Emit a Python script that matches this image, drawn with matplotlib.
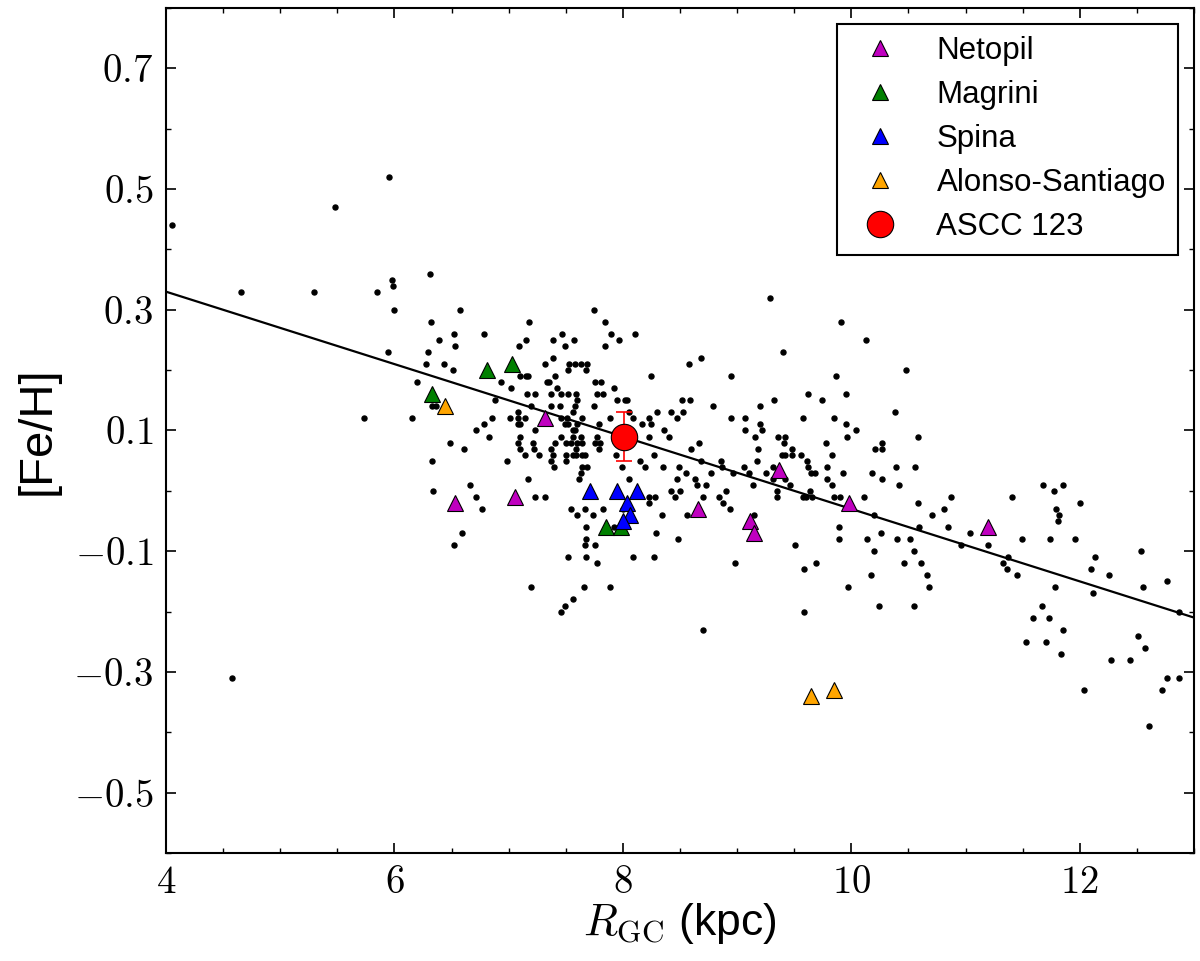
import matplotlib
matplotlib.use('Agg')
import matplotlib.pyplot as plt
from matplotlib.ticker import MultipleLocator, FixedLocator, FuncFormatter
import numpy as np

plt.rcParams['font.family'] = ['Liberation Sans', 'DejaVu Sans']
plt.rcParams['mathtext.fontset'] = 'cm'
plt.rcParams['xtick.direction'] = 'in'
plt.rcParams['ytick.direction'] = 'in'
plt.rcParams['xtick.top'] = True
plt.rcParams['ytick.right'] = True

# open clusters (black dots)
rgc = [5.95, 5.48, 4.05, 4.66, 5.30, 5.85, 5.98, 5.99, 6.00, 5.94, 6.20, 5.73, 6.15, 6.31, 4.58,
       6.57, 7.75, 6.32, 7.18, 7.84, 6.52, 6.78, 7.47, 7.90, 8.11, 6.39, 7.15, 7.39, 7.57, 7.97,
       6.53, 7.09, 7.49, 7.84, 6.29, 7.39, 6.28, 6.43, 7.32, 7.53, 7.58, 7.63, 7.69, 6.51, 7.52, 7.68,
       7.10, 7.15, 7.17, 7.41, 8.25, 6.93, 7.34, 7.35, 7.76, 7.81, 7.02, 7.42, 7.92,
       7.16, 7.23, 7.37, 7.46, 7.52, 7.59, 7.77, 7.83, 6.88, 7.60, 7.95, 8.02, 8.04,
       6.33, 6.36, 7.20, 7.37, 7.45, 7.58, 7.75, 7.08, 7.56, 8.05, 8.30,
       6.85, 7.01, 7.08, 7.14, 7.46, 7.51, 7.64, 7.89, 8.09, 8.23,
       6.78, 7.08, 7.10, 7.49, 7.52, 7.60, 7.79, 8.17, 8.25, 6.71, 7.23, 7.56, 7.58,
       6.83, 7.10, 7.46, 7.56, 7.63, 7.77, 8.23,
       6.49, 7.08, 7.21, 7.41, 7.50, 7.55, 7.60, 7.64, 7.76, 7.80,
       6.61, 7.10, 7.22, 7.37, 7.59, 7.79,
       7.14, 7.27, 7.39, 7.50, 7.56, 7.59, 7.64, 7.67, 7.94, 8.27,
       6.33, 6.99, 7.37, 7.50, 8.15, 7.40, 7.64, 7.69, 7.99, 8.19, 7.63, 7.17, 7.62, 8.05,
       6.66, 6.34, 6.71, 7.23, 7.32, 8.23, 8.28, 8.23, 6.77, 7.55, 7.67, 7.83, 7.60, 7.74,
       7.68, 6.59, 8.29, 7.68, 6.52, 7.67, 7.76, 7.52, 7.68, 8.09, 8.27, 7.77,
       7.20, 7.66, 7.89, 7.56, 7.49, 7.46, 7.92, 8.00,
       9.29, 9.91, 10.13, 9.40, 8.58, 8.68, 8.95, 9.87, 9.62, 9.95, 8.52, 8.59, 9.32, 9.74,
       8.79, 9.20, 8.42, 8.53, 10.38, 8.47, 8.95, 9.07, 9.58, 9.85, 9.20, 9.95,
       8.36, 9.07, 9.22, 10.04, 8.40, 9.16, 9.36, 9.42, 9.96, 8.67, 9.41, 9.78, 10.27,
       8.60, 9.18, 9.48, 10.21, 10.27, 9.39, 9.42, 9.48, 9.56, 9.83, 8.68, 8.86, 9.17, 9.61,
       8.35, 8.49, 8.87, 9.06, 9.31, 9.62, 9.79, 10.39,
       8.55, 8.77, 8.96, 9.10, 9.25, 9.65, 9.68, 9.93, 10.18,
       8.47, 8.63, 9.31, 9.42, 9.79, 10.27, 8.65, 8.73, 9.14, 9.46, 9.83, 10.42,
       8.42, 8.50, 8.90, 9.35, 9.64, 8.46, 8.70, 8.84, 9.35, 9.58, 9.60, 9.66, 9.85, 9.90, 10.11,
       8.88, 8.94, 8.34, 8.56, 9.15, 10.20, 9.89, 10.26, 8.48, 9.89, 10.14, 10.40, 9.51,
       10.20, 8.98, 9.69, 9.59, 10.17, 9.97, 10.24, 9.59, 8.70,
       10.48, 10.58, 10.56, 11.68, 11.85, 11.77, 10.87, 11.41, 10.58, 12.00, 10.81, 11.79,
       10.71, 11.82, 11.81, 10.59, 10.85, 11.04, 10.51, 11.49, 11.74, 11.96,
       10.96, 11.20, 10.55, 12.54, 11.37, 12.13, 10.46, 10.61, 11.33, 11.36, 12.10,
       10.66, 11.45, 12.26, 12.76, 10.68, 11.78, 12.55, 12.12, 10.55, 11.67, 12.87,
       11.59, 11.73, 11.85, 12.51, 11.53, 11.70, 12.57, 11.84, 12.27, 12.44,
       12.76, 12.87, 12.04, 12.72, 12.61]
feh = [0.52, 0.47, 0.44, 0.33, 0.33, 0.33, 0.35, 0.34, 0.30, 0.23, 0.18, 0.12, 0.12, 0.36, -0.31,
       0.30, 0.30, 0.28, 0.28, 0.28, 0.26, 0.26, 0.26, 0.26, 0.26, 0.25, 0.25, 0.25, 0.25, 0.25,
       0.24, 0.24, 0.24, 0.24, 0.23, 0.22, 0.21, 0.21, 0.21, 0.21, 0.21, 0.21, 0.21, 0.20, 0.20, 0.20,
       0.19, 0.19, 0.19, 0.19, 0.19, 0.18, 0.18, 0.18, 0.18, 0.18, 0.17, 0.17, 0.17,
       0.16, 0.16, 0.16, 0.16, 0.16, 0.16, 0.16, 0.16, 0.15, 0.15, 0.15, 0.15, 0.15,
       0.14, 0.14, 0.14, 0.14, 0.14, 0.14, 0.14, 0.13, 0.13, 0.13, 0.13,
       0.12, 0.12, 0.12, 0.12, 0.12, 0.12, 0.12, 0.12, 0.12, 0.12,
       0.11, 0.11, 0.11, 0.11, 0.11, 0.11, 0.11, 0.11, 0.11, 0.10, 0.10, 0.10, 0.10,
       0.09, 0.09, 0.09, 0.09, 0.09, 0.09, 0.09,
       0.08, 0.08, 0.08, 0.08, 0.08, 0.08, 0.08, 0.08, 0.08, 0.08,
       0.07, 0.07, 0.07, 0.07, 0.07, 0.07,
       0.06, 0.06, 0.06, 0.06, 0.06, 0.06, 0.06, 0.06, 0.06, 0.06,
       0.05, 0.05, 0.05, 0.05, 0.05, 0.04, 0.04, 0.04, 0.04, 0.04, 0.03, 0.02, 0.02, 0.02,
       0.01, 0.00, -0.01, -0.01, -0.01, -0.01, -0.01, -0.02, -0.03, -0.03, -0.03, -0.03, -0.04, -0.04,
       -0.06, -0.07, -0.07, -0.08, -0.09, -0.09, -0.09, -0.11, -0.11, -0.11, -0.11, -0.12,
       -0.16, -0.16, -0.16, -0.18, -0.19, -0.20, -0.06, -0.03,
       0.32, 0.28, 0.25, 0.23, 0.21, 0.22, 0.19, 0.19, 0.16, 0.16, 0.15, 0.15, 0.15, 0.15,
       0.14, 0.14, 0.13, 0.13, 0.13, 0.12, 0.12, 0.12, 0.12, 0.12, 0.11, 0.11,
       0.10, 0.10, 0.10, 0.10, 0.09, 0.09, 0.09, 0.09, 0.09, 0.08, 0.08, 0.08, 0.08,
       0.07, 0.07, 0.07, 0.07, 0.07, 0.06, 0.06, 0.06, 0.06, 0.06, 0.05, 0.05, 0.05, 0.05,
       0.04, 0.04, 0.04, 0.04, 0.04, 0.04, 0.04, 0.04,
       0.03, 0.03, 0.03, 0.03, 0.03, 0.03, 0.03, 0.03, 0.03,
       0.02, 0.02, 0.02, 0.02, 0.02, 0.02, 0.01, 0.01, 0.01, 0.01, 0.01, 0.01,
       0.00, 0.00, 0.00, 0.00, 0.00, -0.01, -0.01, -0.01, -0.01, -0.01, -0.01, -0.01, -0.01, -0.01, -0.01,
       -0.02, -0.03, -0.04, -0.04, -0.04, -0.04, -0.06, -0.07, -0.08, -0.08, -0.08, -0.08, -0.09,
       -0.10, -0.12, -0.12, -0.13, -0.14, -0.16, -0.19, -0.20, -0.23,
       0.20, 0.09, 0.04, 0.01, 0.01, 0.00, -0.01, -0.01, -0.02, -0.02, -0.03, -0.03,
       -0.04, -0.04, -0.05, -0.06, -0.06, -0.07, -0.08, -0.08, -0.08, -0.08,
       -0.09, -0.09, -0.10, -0.10, -0.11, -0.11, -0.12, -0.12, -0.12, -0.13, -0.13,
       -0.14, -0.14, -0.14, -0.15, -0.16, -0.16, -0.16, -0.17, -0.19, -0.19, -0.20,
       -0.21, -0.21, -0.23, -0.24, -0.25, -0.25, -0.26, -0.27, -0.28, -0.28,
       -0.31, -0.31, -0.33, -0.33, -0.39]

# literature values for ASCC 123
netopil_r = [7.32, 6.53, 7.06, 8.66, 9.11, 9.15, 9.37, 9.98, 11.20]
netopil_feh = [0.12, -0.02, -0.01, -0.03, -0.05, -0.07, 0.035, -0.02, -0.06]
magrini_r = [6.33, 6.81, 7.03, 7.85, 7.98]
magrini_feh = [0.16, 0.20, 0.21, -0.06, -0.06]
spina_r = [7.71, 7.95, 8.12, 8.04, 8.06, 8.00]
spina_feh = [0.00, 0.00, 0.00, -0.02, -0.04, -0.05]
alonso_r = [6.44, 9.65, 9.85]
alonso_feh = [0.14, -0.34, -0.33]

ascc_r = 8.01
ascc_feh = 0.09
ascc_err = 0.04

# gradient fit
slope = -0.06
intercept = 0.57

fig = plt.figure(figsize=(12, 9.61), dpi=100)
ax = fig.add_axes([0.1383, 0.1124, 0.8567, 0.8793])

ax.plot(rgc, feh, 'o', color='k', ms=3.6, ls='none', zorder=2)

xfit = np.array([4, 13])
ax.plot(xfit, intercept + slope * xfit, 'k-', lw=1.6, zorder=2)

tri = dict(marker='^', ms=12, ls='none', mec='k', mew=0.8, zorder=3)
ax.plot(netopil_r, netopil_feh, color='m', label='Netopil', **tri)
ax.plot(magrini_r, magrini_feh, color='green', label='Magrini', **tri)
ax.plot(spina_r, spina_feh, color='blue', label='Spina', **tri)
ax.plot(alonso_r, alonso_feh, color='orange', label='Alonso-Santiago', **tri)

ax.errorbar(ascc_r, ascc_feh, yerr=ascc_err, fmt='none', ecolor='red',
            elinewidth=1.2, capsize=6, capthick=1.2, zorder=4)
ax.plot(ascc_r, ascc_feh, 'o', color='red', ms=19, mec='k', mew=0.8,
        ls='none', label='ASCC 123', zorder=5)

ax.set_xlim(4, 13)
ax.set_ylim(-0.6, 0.8)
ax.xaxis.set_major_locator(MultipleLocator(2))
ax.xaxis.set_minor_locator(MultipleLocator(0.5))
ax.yaxis.set_major_locator(FixedLocator([-0.5, -0.3, -0.1, 0.1, 0.3, 0.5, 0.7]))
ax.yaxis.set_minor_locator(MultipleLocator(0.1))
ax.xaxis.set_major_formatter(FuncFormatter(lambda v, p: r'$%d$' % v))
ax.yaxis.set_major_formatter(FuncFormatter(lambda v, p: r'$%.1f$' % v))
ax.tick_params(which='major', length=7, width=1.2, labelsize=28, pad=9)
ax.tick_params(which='minor', length=3.5, width=1.0)
for s in ax.spines.values():
    s.set_linewidth(1.5)

ax.set_xlabel(r'$R_{\rm GC}$ (kpc)', fontsize=32, labelpad=0)
ax.set_ylabel('[Fe/H]', fontsize=34, labelpad=10)

leg = ax.legend(loc='upper right', numpoints=1, fontsize=22.5, fancybox=False,
                edgecolor='k', framealpha=1, handletextpad=0.8, labelspacing=0.45,
                borderpad=0.4)
leg.get_frame().set_linewidth(1.5)

fig.savefig('out.png', dpi=100)
